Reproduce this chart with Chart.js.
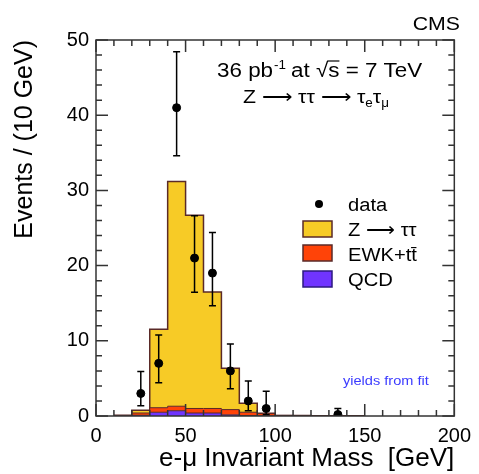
<!DOCTYPE html>
<html>
<head>
  <title>index</title>
  <script src="https://cdn.jsdelivr.net/npm/chart.js"></script>
  <style>
    body { margin: 0; background: #fff; }
  </style>
</head>
<body>
  <canvas id="chart" width="479" height="474"></canvas>

  <script>
    // histogram bins (GeV), 10 GeV wide, from 10 to 150
    const binEdges = [10, 20, 30, 40, 50, 60, 70, 80, 90, 100, 110, 120, 130, 140, 150];
    const qcd      = [0, 0.1, 0.5, 0.7, 0.4, 0.4, 0.15, 0.05, 0.02, 0, 0, 0, 0, 0];
    const ewk      = [0, 0.3, 0.6, 0.6, 0.6, 0.6, 0.7, 0.45, 0.3, 0.08, 0.05, 0.04, 0.03, 0.03];
    const ztautau  = [0.1, 0.36, 10.45, 29.9, 25.7, 15.5, 5.5, 1.2, 0.05, 0, 0, 0, 0, 0];

    // data points with asymmetric errors
    const dataMass   = [25, 35, 45, 55, 65, 75, 85, 95, 135];
    const dataEvents = [3, 7, 41, 21, 19, 6, 2, 1, 0.2];
    const errLow     = [1.63, 2.58, 6.38, 4.55, 4.33, 2.38, 1.29, 0.83, 0.2];
    const errHigh    = [2.92, 3.78, 7.45, 5.62, 5.41, 3.58, 2.64, 2.3, 0.8];

    const xTicks = [0, 50, 100, 150, 200];
    const yTicks = [0, 10, 20, 30, 40, 50];

    const legendLabels = ['data', 'Z \u27f6 \u03c4\u03c4', 'EWK+t\u0074\u0304', 'QCD'];

    const FONT = "'Liberation Sans', Arial, sans-serif";
    const SX = 1.12; // text in the original is a bit wide

    const yellow = '#f7cb26', red = '#ff4308', blue = '#7034ff';
    const edge = '#5a2a28';

    // one point per bin low edge, plus the last high edge
    function stepPoints(values) {
      const pts = values.map((v, i) => ({ x: binEdges[i], y: v }));
      pts.push({ x: binEdges[binEdges.length - 1], y: values[values.length - 1] });
      return pts;
    }

    const cumQcd = qcd.slice();
    const cumEwk = qcd.map((v, i) => v + ewk[i]);
    const cumZ = cumEwk.map((v, i) => v + ztautau[i]);

    function text(ctx, s, x, y, size, opts) {
      opts = opts || {};
      ctx.save();
      ctx.font = size + 'px ' + FONT;
      ctx.fillStyle = opts.color || '#000';
      ctx.textAlign = opts.align || 'left';
      ctx.textBaseline = 'alphabetic';
      ctx.translate(x, y);
      ctx.scale(SX, 1);
      ctx.fillText(s, 0, 0);
      ctx.restore();
      ctx.font = size + 'px ' + FONT;
      return ctx.measureText(s).width * SX;
    }

    const decorations = {
      id: 'decorations',
      afterDatasetsDraw(chart) {
        const ctx = chart.ctx;
        const xs = chart.scales.x, ys = chart.scales.y;
        const a = chart.chartArea;

        // error bars
        ctx.save();
        ctx.strokeStyle = '#000';
        ctx.lineWidth = 1.5;
        dataMass.forEach((m, i) => {
          const px = xs.getPixelForValue(m);
          const lo = ys.getPixelForValue(dataEvents[i] - errLow[i]);
          const hi = ys.getPixelForValue(dataEvents[i] + errHigh[i]);
          ctx.beginPath();
          ctx.moveTo(px, lo); ctx.lineTo(px, hi);
          ctx.moveTo(px - 3.5, hi); ctx.lineTo(px + 3.5, hi);
          if (dataEvents[i] - errLow[i] > 0.05) {
            ctx.moveTo(px - 3.5, lo); ctx.lineTo(px + 3.5, lo);
          }
          ctx.stroke();
        });
        ctx.restore();

        // frame and inside ticks
        ctx.save();
        ctx.strokeStyle = '#333';
        ctx.lineWidth = 1.5;
        ctx.strokeRect(a.left, a.top, a.right - a.left, a.bottom - a.top);
        ctx.beginPath();
        for (let v = 0; v <= 200; v += 10) {
          const px = xs.getPixelForValue(v);
          const len = v % 50 === 0 ? 12 : 6;
          ctx.moveTo(px, a.bottom); ctx.lineTo(px, a.bottom - len);
          ctx.moveTo(px, a.top); ctx.lineTo(px, a.top + len);
        }
        for (let v = 0; v <= 50; v += 2) {
          const py = ys.getPixelForValue(v);
          const len = v % 10 === 0 ? 12 : 6;
          ctx.moveTo(a.left, py); ctx.lineTo(a.left + len, py);
          ctx.moveTo(a.right, py); ctx.lineTo(a.right - len, py);
        }
        ctx.stroke();
        ctx.restore();
      },
      afterDraw(chart) {
        const ctx = chart.ctx;

        text(ctx, 'CMS', 460, 30, 19, { align: 'right' });

        // 36 pb-1 at sqrt(s) = 7 TeV
        let x = 217, y = 77;
        x += text(ctx, '36 pb', x, y, 20);
        x += text(ctx, '-1', x + 1, y - 8, 12) + 6;
        x += text(ctx, 'at ', x, y, 20);
        const wr = text(ctx, '\u221a', x, y, 20);
        const ws = text(ctx, 's', x + wr, y, 20);
        ctx.save();
        ctx.strokeStyle = '#000'; ctx.lineWidth = 1.2;
        ctx.beginPath(); ctx.moveTo(x + wr - 1, y - 16); ctx.lineTo(x + wr + ws, y - 16); ctx.stroke();
        ctx.restore();
        x += wr + ws;
        text(ctx, ' = 7 TeV', x, y, 20);

        // Z -> tautau -> tau_e tau_mu
        x = 243; y = 103;
        x += text(ctx, 'Z \u27f6 \u03c4\u03c4 \u27f6 \u03c4', x, y, 19);
        x += text(ctx, 'e', x, y + 4, 12);
        x += text(ctx, '\u03c4', x, y, 19);
        text(ctx, '\u03bc', x, y + 4, 12);

        // legend
        ctx.save();
        ctx.fillStyle = '#000';
        ctx.beginPath(); ctx.arc(319, 204, 4, 0, Math.PI * 2); ctx.fill();
        const boxes = [[yellow, edge, 221], [red, edge, 245], [blue, '#2c1a80', 271]];
        boxes.forEach(b => {
          ctx.fillStyle = b[0];
          ctx.fillRect(303, b[2], 29, 16);
          ctx.strokeStyle = b[1]; ctx.lineWidth = 1.5;
          ctx.strokeRect(303, b[2], 29, 16);
        });
        ctx.restore();
        text(ctx, legendLabels[0], 348, 211, 18);
        text(ctx, legendLabels[1], 348, 236, 18);
        text(ctx, legendLabels[2], 348, 261, 18);
        text(ctx, legendLabels[3], 348, 286, 18);

        text(ctx, 'yields from fit', 343, 385, 13, { color: '#3b3bff' });
      }
    };

    new Chart(document.getElementById('chart'), {
      type: 'line',
      data: {
        datasets: [
          {
            label: 'data',
            data: dataMass.map((m, i) => ({ x: m, y: dataEvents[i] })),
            showLine: false,
            pointRadius: 4,
            pointBackgroundColor: '#000',
            pointBorderColor: '#000',
            order: 0
          },
          {
            label: 'QCD',
            data: stepPoints(cumQcd),
            stepped: 'before',
            fill: 'origin',
            backgroundColor: blue,
            borderColor: edge,
            borderWidth: 1,
            pointRadius: 0,
            order: 1
          },
          {
            label: 'EWK+tt',
            data: stepPoints(cumEwk),
            stepped: 'before',
            fill: 1,
            backgroundColor: red,
            borderColor: edge,
            borderWidth: 1,
            pointRadius: 0,
            order: 2
          },
          {
            label: 'Z->tautau',
            data: stepPoints(cumZ),
            stepped: 'before',
            fill: 2,
            backgroundColor: yellow,
            borderColor: edge,
            borderWidth: 1.5,
            pointRadius: 0,
            order: 3
          }
        ]
      },
      options: {
        responsive: false,
        animation: false,
        layout: { padding: { top: 40, right: 19, left: 0, bottom: 0 } },
        plugins: { legend: { display: false }, tooltip: { enabled: false } },
        scales: {
          x: {
            type: 'linear',
            min: 0, max: 200,
            afterBuildTicks: s => { s.ticks = xTicks.map(v => ({ value: v })); },
            afterFit: s => { s.height = 58; },
            grid: { display: false, drawTicks: false },
            border: { display: false },
            ticks: { color: '#000', padding: 8, font: { family: FONT, size: 20 }, maxRotation: 0 },
            title: {
              display: true, text: 'e-\u03bc Invariant Mass  [GeV]', align: 'end',
              color: '#000', font: { family: FONT, size: 26 }, padding: { top: 0, bottom: 0 }
            }
          },
          y: {
            min: 0, max: 50,
            afterBuildTicks: s => { s.ticks = yTicks.map(v => ({ value: v })); },
            afterFit: s => { s.width = 96; },
            grid: { display: false, drawTicks: false },
            border: { display: false },
            ticks: { color: '#000', padding: 7, font: { family: FONT, size: 20 } },
            title: {
              display: true, text: 'Events / (10 GeV)', align: 'end',
              color: '#000', font: { family: FONT, size: 25 }, padding: { top: 10, bottom: 0 }
            }
          }
        }
      },
      plugins: [decorations]
    });
  </script>
</body>
</html>
